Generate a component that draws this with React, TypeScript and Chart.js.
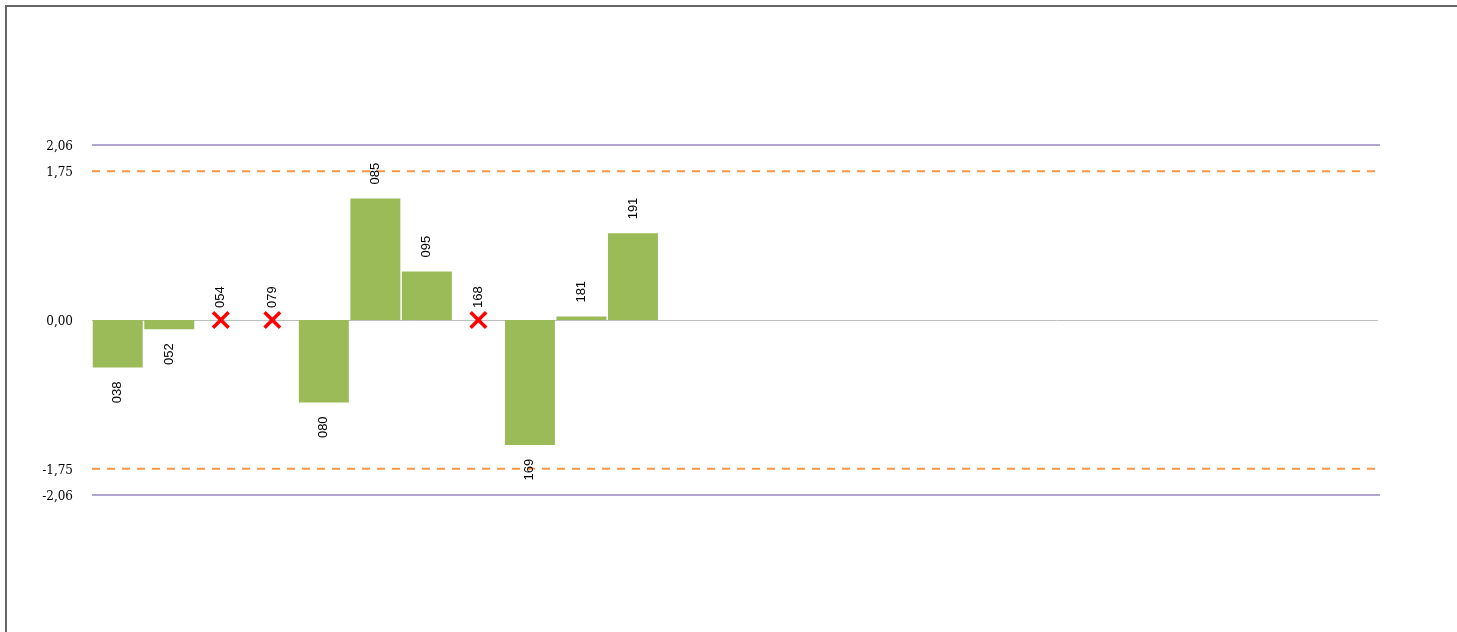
import React, { useEffect, useRef } from "react";
import { Chart, registerables } from "chart.js";

Chart.register(...registerables);

const categories: string[] = [
  "038", "052", "054", "079", "080", "085", "095", "168", "169", "181", "191",
  "", "", "", "", "", "", "", "", "", "", "", "", "", "",
];
const barValues: (number | null)[] = [
  -0.56, -0.11, null, null, -0.97, 1.43, 0.57, null, -1.47, 0.04, 1.02,
  null, null, null, null, null, null, null, null, null, null, null, null, null, null,
];
const crossValues: (number | null)[] = [
  null, null, 0, 0, null, null, null, 0, null, null, null,
  null, null, null, null, null, null, null, null, null, null, null, null, null, null,
];
const tickValues: number[] = [-2.06, -1.75, 0, 1.75, 2.06];
const outerLimits: number[] = [2.06, -2.06];
const innerLimits: number[] = [1.75, -1.75];

const refLinesPlugin = {
  id: "refLines",
  beforeDatasetsDraw(chart: any) {
    const { ctx, chartArea, scales } = chart;
    const y = scales.y;
    ctx.save();
    ctx.strokeStyle = "#BFBFBF";
    ctx.lineWidth = 1;
    const y0 = Math.round(y.getPixelForValue(0)) + 0.5;
    ctx.beginPath();
    ctx.moveTo(chartArea.left, y0);
    ctx.lineTo(chartArea.right - 2, y0);
    ctx.stroke();
    ctx.strokeStyle = "#B4A5CF";
    ctx.lineWidth = 2;
    outerLimits.forEach((v) => {
      const py = y.getPixelForValue(v);
      ctx.beginPath();
      ctx.moveTo(chartArea.left, py);
      ctx.lineTo(chartArea.right, py);
      ctx.stroke();
    });
    ctx.strokeStyle = "#F79646";
    ctx.setLineDash([8, 7]);
    innerLimits.forEach((v) => {
      const py = y.getPixelForValue(v);
      ctx.beginPath();
      ctx.moveTo(chartArea.left, py);
      ctx.lineTo(chartArea.right, py);
      ctx.stroke();
    });
    ctx.restore();
  },
};

const labelPlugin = {
  id: "rotLabels",
  afterDatasetsDraw(chart: any) {
    const { ctx } = chart;
    ctx.save();
    ctx.font = "13px 'Liberation Sans', Arial, sans-serif";
    ctx.fillStyle = "#000000";
    ctx.textBaseline = "middle";
    chart.data.datasets.forEach((ds: any, di: number) => {
      const meta = chart.getDatasetMeta(di);
      meta.data.forEach((el: any, i: number) => {
        const v = ds.data[i];
        if (v === null || v === undefined) return;
        const label = categories[i];
        const isCross = ds.type === "line";
        const off = isCross ? 12 : 14;
        ctx.save();
        if (v >= 0) {
          ctx.translate(el.x, el.y - off);
          ctx.rotate(-Math.PI / 2);
          ctx.textAlign = "left";
        } else {
          ctx.translate(el.x, el.y + off);
          ctx.rotate(-Math.PI / 2);
          ctx.textAlign = "right";
        }
        ctx.fillText(label, 0, 0);
        ctx.restore();
      });
    });
    ctx.restore();
  },
};

export default function App() {
  const ref = useRef<HTMLCanvasElement | null>(null);
  useEffect(() => {
    document.body.style.overflow = "hidden";
    const canvas = ref.current;
    if (!canvas) return;
    const chart = new Chart(canvas, {
      type: "bar",
      data: {
        labels: categories,
        datasets: [
          {
            type: "bar",
            data: barValues,
            backgroundColor: "#9BBB59",
            borderWidth: 0,
            barPercentage: 1,
            categoryPercentage: 0.97,
            order: 2,
          } as any,
          {
            type: "line",
            data: crossValues,
            showLine: false,
            pointStyle: "crossRot",
            pointRadius: 11,
            pointBorderWidth: 3.5,
            pointBorderColor: "#FF0000",
            pointBackgroundColor: "#FF0000",
            order: 1,
          } as any,
        ],
      },
      options: {
        animation: false,
        responsive: false,
        maintainAspectRatio: false,
        events: [],
        layout: { padding: { top: 145, bottom: 137, left: 0, right: 77 } },
        plugins: {
          legend: { display: false },
          tooltip: { enabled: false },
          title: { display: false },
        },
        scales: {
          x: { display: false, offset: true },
          y: {
            min: -2.06,
            max: 2.06,
            afterBuildTicks: (scale: any) => {
              scale.ticks = tickValues.map((v) => ({ value: v }));
            },
            afterFit: (scale: any) => {
              scale.width = 92;
            },
            grid: { display: false, drawTicks: false },
            border: { display: false },
            ticks: {
              padding: 19,
              labelOffset: 2,
              color: "#000000",
              font: { family: "'DejaVu Serif', serif", size: 12 },
              callback: (v: any) => Number(v).toFixed(2).replace(".", ","),
            },
          },
        },
      },
      plugins: [refLinesPlugin, labelPlugin],
    });
    return () => chart.destroy();
  }, []);

  return (
    <div style={{ position: "fixed", left: 0, top: 0, width: 1457, height: 632, overflow: "hidden", background: "#fff" }}>
      <div
        style={{
          position: "absolute",
          left: 5,
          top: 5,
          width: 1500,
          height: 700,
          borderLeft: "2px solid #666666",
          borderTop: "2px solid #666666",
        }}
      />
      <canvas ref={ref} width={1457} height={632} style={{ position: "absolute", left: 0, top: 0 }} />
    </div>
  );
}
